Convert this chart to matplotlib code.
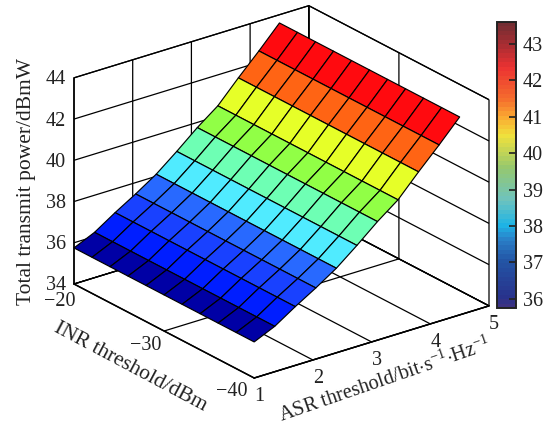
import numpy as np
import matplotlib
matplotlib.use("Agg")
import matplotlib.pyplot as plt
from matplotlib.colors import LinearSegmentedColormap, Normalize, to_rgba
from matplotlib.cm import ScalarMappable
from mpl_toolkits.mplot3d import proj3d

asr = [1.0, 1.35, 1.7, 2.05, 2.4, 2.75, 3.1, 3.45, 3.8, 4.15, 4.5]
inr = [-40, -38, -36, -34, -32, -30, -28, -26, -24, -22, -20]
power = [35.75, 36.2, 36.85, 37.45, 38.1, 38.9, 39.75, 40.5, 41.55, 42.55, 43.6]
band_colors = ["#0000a5", "#001eff", "#1941ff", "#2869ff", "#50ebff",
               "#6effb4", "#91ff46", "#e6ff28", "#ff6414", "#ff0a0f"]
asr_ticks = [1, 2, 3, 4, 5]
inr_ticks = [-40, -30, -20]
inr_labels = ["\u221240", "\u221230", "\u221220"]
z_ticks = [34, 36, 38, 40, 42, 44]
cbar_ticks = [36, 37, 38, 39, 40, 41, 42, 43]
cbar_stops = [(35.75, "#3c3282"), (36.0, "#28328c"), (37.0, "#2355a5"), (37.6, "#2a7fc8"),
              (38.0, "#1eb4e6"), (38.7, "#6ec3be"), (39.6, "#96c86e"), (40.5, "#f0e13c"),
              (41.0, "#faaa32"), (41.5, "#f56e2d"), (42.4, "#eb3232"), (43.0, "#aa2d32"),
              (43.6, "#732d32")]

plt.rcParams["font.family"] = "Liberation Serif"
plt.rcParams["mathtext.fontset"] = "custom"
plt.rcParams["mathtext.rm"] = "Liberation Serif"
plt.rcParams["mathtext.it"] = "Liberation Serif:italic"
plt.rcParams["mathtext.default"] = "rm"

W, H = 551, 423
fig = plt.figure(figsize=(W / 100, H / 100), dpi=100, facecolor="white")
ax = fig.add_axes([0.0, 0.0, 1.0, 1.0], projection="3d", proj_type="ortho")
ax.patch.set_visible(False)
ax.view_init(elev=23.6, azim=-127.5)
ax.set_box_aspect((296, 296, 225))
ax.set_xlim(1, 5)
ax.set_ylim(-40, -20)
ax.set_zlim(34, 44)

X, Y = np.meshgrid(asr, inr)
Z = np.tile(np.array(power), (len(inr), 1))
fc = np.zeros((len(inr), len(asr), 4))
for j, c in enumerate(band_colors):
    fc[:, j] = to_rgba(c)
fc[:, -1] = to_rgba(band_colors[-1])
ax.plot_surface(X, Y, Z, facecolors=fc, edgecolor="black", linewidth=0.85,
                rstride=1, cstride=1, shade=False, antialiased=True)

ax.set_xticks(asr_ticks)
ax.set_yticks(inr_ticks)
ax.set_yticklabels([""] * len(inr_ticks))
ax.set_zticks(z_ticks)
ax.set_zticklabels([""] * len(z_ticks))
for a in (ax.xaxis, ax.yaxis, ax.zaxis):
    a.set_pane_color((1, 1, 1, 1))
    a.pane.set_edgecolor("black")
    a.pane.set_linewidth(0.9)
    a.line.set_color("black")
    a.line.set_linewidth(1.1)
    a._axinfo["grid"].update(color="black", linewidth=0.9, linestyle="-")
    a._axinfo["tick"].update(inward_factor=0, outward_factor=0)
ax.tick_params(axis="both", labelsize=14.5, colors="#222222")
ax.tick_params(axis="x", pad=-3)


def px(x, y, z):
    fig.canvas.draw()
    a, b, _ = proj3d.proj_transform(x, y, z, ax.get_proj())
    return ax.transData.transform((a, b))


# fit the box onto the reference's corner positions
target_l = np.array([74.0, H - 284.0])
target_r = np.array([489.0, H - 306.0])
pos = [0.0, 0.0, 1.0, 1.0]
for _ in range(4):
    l = px(1, -20, 34)
    r = px(5, -40, 34)
    s = (target_r[0] - target_l[0]) / (r[0] - l[0])
    pos[2] *= s
    pos[3] *= s
    ax.set_position(pos)
    l = px(1, -20, 34)
    pos[0] += (target_l[0] - l[0]) / W
    pos[1] += (target_l[1] - l[1]) / H
    ax.set_position(pos)

# tick labels of the INR and power axes, placed from the projected tick positions
inr_offsets = {-40: (-22, -13), -30: (-18, -14), -20: (-14, -18)}
for v, s in zip(inr_ticks, inr_labels):
    p = px(1, v, 34)
    dx, dy = inr_offsets[v]
    fig.text((p[0] + dx) / W, (p[1] + dy) / H, s, fontsize=14.5,
             ha="center", va="center", color="#222222")
for v in z_ticks:
    p = px(1, -20, v)
    fig.text((p[0] - 8) / W, (p[1] - 2) / H, str(v), fontsize=14.5,
             ha="right", va="center", color="#222222")

cax = fig.add_axes([497 / W, 1 - 308 / H, 19 / W, 286 / H], zorder=5)
lo, hi = cbar_stops[0][0], cbar_stops[-1][0]
cmap = LinearSegmentedColormap.from_list(
    "bar", [((v - lo) / (hi - lo), c) for v, c in cbar_stops], N=64)
cb = fig.colorbar(ScalarMappable(Normalize(lo, hi), cmap), cax=cax, ticks=cbar_ticks)
cb.outline.set_linewidth(1.4)
cb.outline.set_edgecolor("#222222")
cax.tick_params(direction="in", length=5, width=1.2, labelsize=14.5,
                labelcolor="#222222", pad=5, color="#222222")

fig.text(26 / W, 1 - 181 / H, "Total transmit power/dBmW", rotation=90, fontsize=15.5,
         ha="center", va="center", color="#222222")
fig.text(130 / W, 1 - 367 / H, "INR threshold/dBm", rotation=-28, fontsize=15.5,
         ha="center", va="center", rotation_mode="anchor", color="#222222")
fig.text(385 / W, 1 - 380 / H, r"ASR threshold/bit$\cdot$s$^{-1}$$\cdot$Hz$^{-1}$",
         rotation=19, fontsize=14.7, ha="center", va="center",
         rotation_mode="anchor", color="#222222")

fig.savefig("out.png", dpi=100)
